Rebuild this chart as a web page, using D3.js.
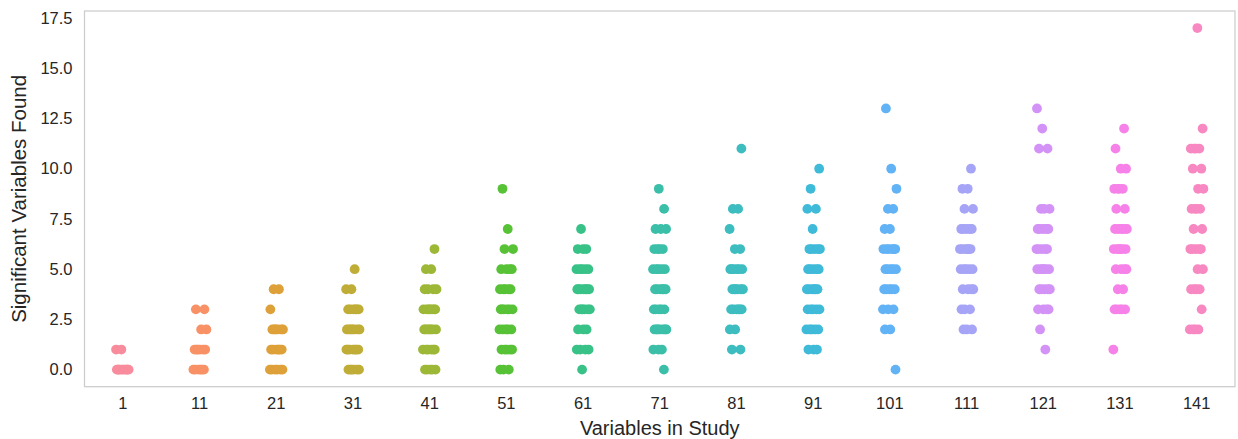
<!DOCTYPE html>
<html>
<head>
<meta charset="utf-8">
<script src="https://cdn.jsdelivr.net/npm/d3@7"></script>
<style>
  html, body { margin: 0; padding: 0; background: #ffffff; }
  svg { display: block; font-family: "Liberation Sans", Arial, sans-serif; }
</style>
</head>
<body>
<svg id="chart" width="1238" height="439"></svg>
<script>
// Number of variables in each simulated study
const categories = [1, 11, 21, 31, 41, 51, 61, 71, 81, 91, 101, 111, 121, 131, 141];

// Significant variables found, one entry per study run
const found1   = [0,0,0,0,0,0,0,0,0,0, 1,1];
const found11  = [0,0,0,0,0,0, 1,1,1,1,1,1, 2,2, 3,3];
const found21  = [0,0,0,0,0,0, 1,1,1,1,1,1, 2,2,2,2,2,2, 3, 4,4];
const found31  = [0,0,0,0,0,0, 1,1,1,1,1,1,1, 2,2,2,2,2,2,2, 3,3,3,3,3,3, 4,4, 5];
const found41  = [0,0,0,0,0, 1,1,1,1,1,1, 2,2,2,2,2,2,2, 3,3,3,3,3,3,3, 4,4,4,4, 5,5, 6];
const found51  = [0,0,0, 1,1,1,1,1, 2,2,2,2,2, 3,3,3,3,3,3, 4,4,4,4,4, 5,5,5,5, 6,6, 7, 9];
const found61  = [0, 1,1,1,1, 2,2,2, 3,3,3,3,3,3, 4,4,4,4,4,4,4, 5,5,5,5,5, 6,6,6, 7];
const found71  = [0, 1,1,1, 2,2,2,2,2,2,2, 3,3,3,3,3, 4,4,4,4,4,4, 5,5,5,5,5, 6,6,6,6, 7,7,7, 8, 9];
const found81  = [1,1, 2,2, 3,3,3,3,3,3, 4,4,4,4,4,4, 5,5,5,5,5,5, 6,6, 7, 8,8, 11];
const found91  = [1,1,1, 2,2,2,2,2, 3,3,3,3,3, 4,4,4,4,4,4, 5,5,5,5,5, 6,6,6,6,6, 7, 8,8, 9, 10];
const found101 = [0, 2,2, 3,3,3, 4,4,4,4,4, 5,5,5,5,5, 6,6,6,6,6,6, 7,7, 8,8, 9, 10, 13];
const found111 = [2,2,2, 3,3,3, 4,4,4,4, 5,5,5,5,5, 6,6,6,6,6,6, 7,7,7,7,7, 8,8, 9,9, 10];
const found121 = [1, 2, 3,3,3,3, 4,4,4,4,4, 5,5,5,5,5,5, 6,6,6,6,6, 7,7,7,7,7, 8,8,8, 11,11, 12, 13];
const found131 = [1, 3,3,3,3,3, 4,4, 5,5,5,5, 6,6,6,6,6,6, 7,7,7,7,7, 8,8, 9,9,9,9, 10,10, 11, 12];
const found141 = [2,2,2,2, 3, 4,4,4,4, 5,5, 6,6,6,6,6, 7,7, 8,8,8,8, 9,9, 10,10, 11,11,11,11, 12, 17];

const seriesByCategory = [found1, found11, found21, found31, found41, found51, found61, found71,
                          found81, found91, found101, found111, found121, found131, found141];

const yTicks = [0, 2.5, 5, 7.5, 10, 12.5, 15, 17.5];

// ---- HUSL colour space (same formulas as seaborn's husl_palette) ----
const M = [[3.2406, -1.5372, -0.4986], [-0.9689, 1.8758, 0.0415], [0.0557, -0.2040, 1.0570]];
const refU = 0.19784, refV = 0.46834, labE = 0.008856, labK = 903.3;
function maxChroma(L, H) {
  const hr = H / 360 * 2 * Math.PI, s = Math.sin(hr), c = Math.cos(hr);
  const sub1 = Math.pow(L + 16, 3) / 1560896.0;
  const sub2 = sub1 > 0.008856 ? sub1 : L / 903.3;
  let result = Infinity;
  for (const [m1, m2, m3] of M) {
    const top = (0.99915 * m1 + 1.05122 * m2 + 1.14460 * m3) * sub2;
    const rb = 0.86330 * m3 - 0.17266 * m2;
    const lb = 0.12949 * m3 - 0.38848 * m1;
    const bottom = (rb * s + lb * c) * sub2;
    for (const t of [0, 1]) {
      const C = L * (top - 1.05122 * t) / (bottom + 0.17266 * s * t);
      if (C > 0 && C < result) result = C;
    }
  }
  return result;
}
function huslToHex(H, S, L) {
  const C = maxChroma(L, H) / 100 * S;
  const hr = H / 360 * 2 * Math.PI;
  const U = Math.cos(hr) * C, V = Math.sin(hr) * C;
  const t = (L + 16) / 116;
  const varY = Math.pow(t, 3) > labE ? Math.pow(t, 3) : (116 * t - 16) / labK;
  const varU = U / (13 * L) + refU, varV = V / (13 * L) + refV;
  const Y = varY;
  const X = -(9 * Y * varU) / ((varU - 4) * varV - varU * varV);
  const Z = (9 * Y - 15 * varV * Y - varV * X) / (3 * varV);
  const rgb = M.map(r => {
    const v = r[0] * X + r[1] * Y + r[2] * Z;
    const g = v <= 0.0031308 ? 12.92 * v : 1.055 * Math.pow(v, 1 / 2.4) - 0.055;
    return Math.round(Math.max(0, Math.min(1, g)) * 255);
  });
  return d3.rgb(rgb[0], rgb[1], rgb[2]).formatHex();
}
function huslPalette(n, h = 0.01, s = 0.9, l = 0.71) {
  return d3.range(n).map(i => huslToHex(((i / n + h) % 1) * 359, s * 99, l * 99));
}
const palette = huslPalette(categories.length);

// ---- layout ----
const svg = d3.select("#chart");
const margin = { left: 84.5, right: 3, top: 11, bottom: 52.3 };
const W = 1238, H = 439;
const plotW = W - margin.left - margin.right;
const plotH = H - margin.top - margin.bottom;

const x = d3.scaleBand().domain(categories).range([margin.left, margin.left + plotW]).paddingInner(0).paddingOuter(0);
const yMin = -0.85, yMax = 17.85;
const y = d3.scaleLinear().domain([yMin, yMax]).range([margin.top + plotH, margin.top]);

// frame
svg.append("rect")
  .attr("x", margin.left).attr("y", margin.top)
  .attr("width", plotW).attr("height", plotH)
  .attr("fill", "#ffffff").attr("stroke", "#cccccc").attr("stroke-width", 1.25);

const fontFam = "Liberation Sans, Arial, sans-serif";

// axes (labels only, no tick marks)
const xAxis = d3.axisBottom(x).tickSize(0).tickPadding(11);
svg.append("g")
  .attr("transform", `translate(0,${margin.top + plotH})`)
  .call(xAxis)
  .call(g => g.select(".domain").remove())
  .call(g => g.selectAll("text").attr("fill", "#262626").attr("font-size", 16.5).attr("font-family", fontFam));

const yAxis = d3.axisLeft(y).tickValues(yTicks).tickFormat(d3.format(".1f")).tickSize(0).tickPadding(12);
svg.append("g")
  .attr("transform", `translate(${margin.left},0)`)
  .call(yAxis)
  .call(g => g.select(".domain").remove())
  .call(g => g.selectAll("text").attr("fill", "#262626").attr("font-size", 16.5).attr("font-family", fontFam));

// axis titles
svg.append("text")
  .attr("x", margin.left + plotW / 2).attr("y", 435)
  .attr("text-anchor", "middle").attr("fill", "#262626").attr("font-size", 20)
  .text("Variables in Study");
svg.append("text")
  .attr("transform", `translate(26,${margin.top + plotH / 2}) rotate(-90)`)
  .attr("text-anchor", "middle").attr("fill", "#262626").attr("font-size", 20.5)
  .text("Significant Variables Found");

// strip points with a fixed, evenly spread horizontal jitter
const points = [];
categories.forEach((cat, ci) => {
  seriesByCategory[ci].forEach((v, k) => {
    const frac = (k * 0.6180339887 + ci * 0.37 + 0.21) % 1;
    points.push({ cat, ci, v, j: (frac * 2 - 1) * 0.09 });
  });
});

svg.append("g")
  .selectAll("circle")
  .data(points)
  .join("circle")
  .attr("cx", d => x(d.cat) + x.bandwidth() / 2 + d.j * x.bandwidth())
  .attr("cy", d => y(d.v))
  .attr("r", 4.9)
  .attr("fill", d => palette[d.ci]);
</script>
</body>
</html>
